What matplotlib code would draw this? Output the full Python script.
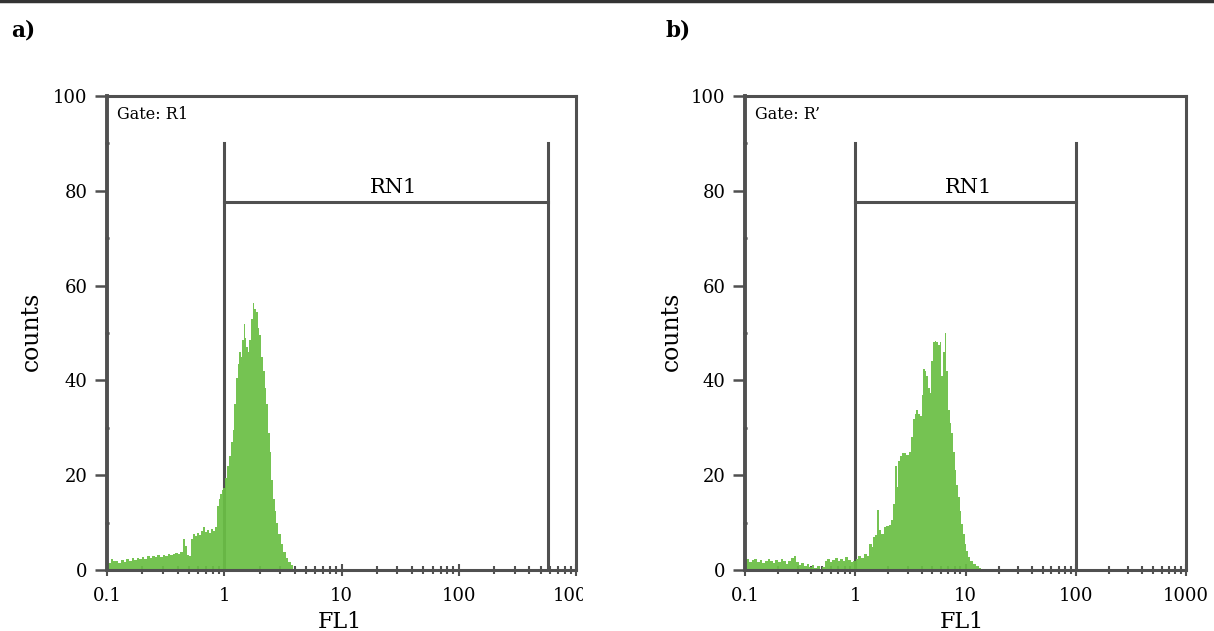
import matplotlib
matplotlib.use("Agg")
import matplotlib.pyplot as plt
from matplotlib.lines import Line2D
from matplotlib.transforms import Bbox

plt.rcParams['font.family'] = ['DejaVu Serif']

# panel a) histogram (FL1 position, counts)
fl1_a = [0.100, 0.105, 0.110, 0.116, 0.122, 0.128, 0.135, 0.142, 0.150, 0.158,
         0.166, 0.175, 0.184, 0.193, 0.203, 0.214, 0.225, 0.237, 0.249, 0.262,
         0.276, 0.290, 0.305, 0.321, 0.338, 0.356, 0.374, 0.393, 0.413, 0.434,
         0.456, 0.470, 0.490, 0.510, 0.530, 0.550, 0.575, 0.600, 0.625, 0.650,
         0.670, 0.700, 0.730, 0.760, 0.790, 0.820, 0.850, 0.880, 0.910, 0.940,
         0.970, 1.000, 1.040, 1.080, 1.120, 1.160, 1.200, 1.240, 1.280, 1.320,
         1.370, 1.410, 1.450, 1.490, 1.520, 1.560, 1.610, 1.660, 1.720, 1.780,
         1.830, 1.900, 1.960, 2.030, 2.100, 2.170, 2.240, 2.320, 2.400, 2.470,
         2.550, 2.640, 2.730, 2.820, 2.960, 3.110, 3.270, 3.430, 3.600, 3.790,
         4.000, 4.200]
counts_a = [2.2, 1.5, 2.4, 1.8, 2.0, 1.4, 2.1, 1.7, 2.3, 2.0,
            2.5, 2.1, 2.6, 2.3, 2.8, 2.4, 2.9, 2.6, 3.0, 2.7,
            3.1, 2.8, 3.2, 3.0, 3.4, 3.1, 3.3, 3.6, 3.4, 3.8,
            6.6, 5.0, 3.2, 3.0, 6.5, 7.6, 7.2, 7.8, 7.4, 8.2,
            9.0, 8.0, 8.4, 7.8, 8.6, 8.2, 9.0, 13.5, 15.0, 16.0,
            16.8, 17.4, 19.5, 22.0, 24.0, 27.0, 29.5, 35.0, 40.5, 43.5,
            46.0, 45.0, 48.5, 52.0, 49.0, 47.0, 46.0, 48.5, 53.0, 56.3,
            55.0, 54.5, 51.0, 49.5, 45.0, 42.0, 38.5, 35.0, 29.0, 25.0,
            19.0, 15.0, 12.5, 10.0, 7.5, 5.5, 3.8, 2.5, 1.6, 1.0,
            0.3, 0.0]

# panel b) histogram
fl1_b = [0.100, 0.106, 0.112, 0.118, 0.125, 0.132, 0.140, 0.148, 0.156, 0.165,
         0.174, 0.184, 0.194, 0.205, 0.216, 0.228, 0.241, 0.254, 0.268, 0.283,
         0.299, 0.316, 0.333, 0.352, 0.371, 0.392, 0.414, 0.437, 0.461, 0.487,
         0.514, 0.543, 0.573, 0.605, 0.638, 0.674, 0.711, 0.750, 0.792, 0.836,
         0.882, 0.931, 0.983, 1.040, 1.100, 1.160, 1.230, 1.300, 1.380, 1.440,
         1.480, 1.550, 1.600, 1.680, 1.760, 1.850, 1.950, 2.060, 2.170, 2.250,
         2.330, 2.410, 2.500, 2.580, 2.680, 2.770, 2.970, 3.180, 3.290, 3.410,
         3.530, 3.650, 3.780, 3.920, 4.060, 4.200, 4.350, 4.500, 4.660, 4.820,
         5.000, 5.170, 5.350, 5.540, 5.740, 5.940, 6.150, 6.370, 6.590, 6.820,
         7.060, 7.310, 7.570, 7.840, 8.110, 8.400, 8.690, 9.000, 9.330, 9.660,
         10.00, 10.35, 10.70, 11.30, 11.90, 12.80, 13.70, 14.20]
counts_b = [1.8, 2.3, 1.6, 2.1, 2.4, 1.7, 2.2, 1.5, 2.0, 2.4,
            1.9, 1.4, 2.1, 1.6, 2.3, 1.8, 1.2, 2.0, 2.6, 3.0,
            1.6, 1.0, 1.5, 0.8, 1.3, 0.6, 1.1, 0.4, 0.9, 0.3,
            0.6, 1.8, 2.3, 1.7, 2.2, 2.6, 1.9, 2.4, 2.0, 2.7,
            2.2, 1.6, 2.0, 2.4, 3.0, 2.6, 3.4, 3.0, 5.5, 4.8,
            7.0, 7.4, 12.6, 8.5, 7.7, 9.0, 9.2, 9.5, 10.5, 14.0,
            21.9, 17.6, 23.0, 24.0, 24.6, 24.7, 24.2, 25.0, 28.0, 31.8,
            33.0, 33.8, 33.0, 32.5, 37.0, 42.4, 42.0, 41.0, 38.5, 37.4,
            44.0, 48.0, 48.3, 48.0, 47.5, 48.0, 41.0, 46.0, 49.9, 42.0,
            33.8, 31.0, 29.0, 25.0, 21.0, 18.0, 15.5, 12.5, 9.8, 7.5,
            5.5, 4.0, 2.7, 2.0, 1.3, 0.8, 0.4, 0.0]

x_ticks = [0.1, 1, 10, 100, 1000]
x_ticklabels = ['0.1', '1', '10', '100', '1000']
y_ticks = [0, 20, 40, 60, 80, 100]
gates = {'a': (1, 575), 'b': (1, 100)}
gate_labels = {'a': 'Gate: R1', 'b': 'Gate: R\u2019'}
rn1_pos = {'a': 28, 'b': 10.6}

green = '#6abf45'
frame = '#505050'

W, H = 1214, 631
fig = plt.figure(figsize=(W / 100, H / 100), dpi=100)

ax_a = fig.add_axes([107 / W, 1 - 570 / H, 469 / W, 474 / H])
ax_b = fig.add_axes([745 / W, 1 - 570 / H, 441 / W, 474 / H])

for key, ax, xs, ys in [('a', ax_a, fl1_a, counts_a), ('b', ax_b, fl1_b, counts_b)]:
    ax.set_xscale('log')
    ax.set_xlim(0.1, 1000)
    ax.set_ylim(0, 100)

    # RN1 gate marker
    g0, g1 = gates[key]
    ax.plot([g0, g0], [0, 90], color=frame, lw=2.2, zorder=2)
    ax.plot([g1, g1], [0, 90], color=frame, lw=2.2, zorder=2)
    ax.plot([g0, g1], [77.6, 77.6], color=frame, lw=2.2, zorder=2)
    ax.text(rn1_pos[key], 78.6, 'RN1', ha='center', va='bottom', fontsize=15)

    ax.fill_between(xs, ys, step='mid', color=green, lw=0, alpha=0.93, zorder=3)

    ax.text(0.022, 0.962, gate_labels[key], transform=ax.transAxes,
            ha='left', va='center', fontsize=11.5)

    for s in ax.spines.values():
        s.set_color(frame)
        s.set_linewidth(2.2)
        s.set_zorder(4)
    ax.spines['left'].set_linewidth(2.8)

    ax.set_xticks(x_ticks)
    ax.set_xticklabels(x_ticklabels)
    ax.set_yticks(y_ticks)
    ax.set_yticks([10, 30, 50, 70, 90], minor=True)
    ax.tick_params(axis='both', which='major', labelsize=13, color=frame)
    ax.tick_params(axis='x', which='major', direction='inout', length=8, width=1.5, pad=8)
    ax.tick_params(axis='x', which='minor', direction='inout', length=6, width=1.5, color=frame)
    ax.tick_params(axis='y', which='major', direction='out', length=9, width=1.8, pad=5)
    ax.tick_params(axis='y', which='minor', direction='inout', length=3, width=1.8, color='#222222')

# clip the last x label of panel a as in the original figure
last = ax_a.get_xticklabels()[-1]
last.set_clip_on(True)
last.set_clip_box(Bbox.from_extents(0, 0, 583, H))

fig.text(31 / W, 1 - 331 / H, 'counts', rotation=90, ha='center', va='center', fontsize=17)
fig.text(671 / W, 1 - 331 / H, 'counts', rotation=90, ha='center', va='center', fontsize=17)
fig.text(340 / W, 1 - 622 / H, 'FL1', ha='center', va='center', fontsize=16)
fig.text(962 / W, 1 - 622 / H, 'FL1', ha='center', va='center', fontsize=16)

fig.text(11 / W, 1 - 31 / H, 'a)', ha='left', va='center', fontsize=15.5, fontweight='bold')
fig.text(665 / W, 1 - 31 / H, 'b)', ha='left', va='center', fontsize=15.5, fontweight='bold')

fig.add_artist(Line2D([0, 1], [1 - 1 / H, 1 - 1 / H], transform=fig.transFigure,
                      color='#333333', lw=2.5))

fig.savefig('out.png', dpi=100)
